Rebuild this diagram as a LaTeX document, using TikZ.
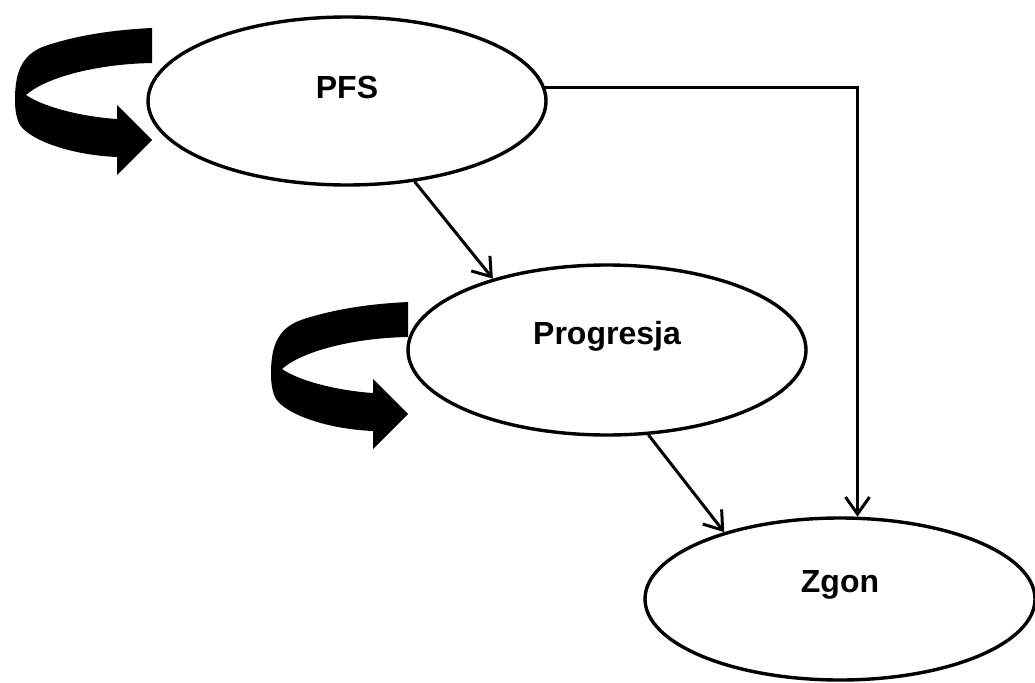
\documentclass[tikz,border=0pt]{standalone}
\usepackage{fontspec}
\setmainfont{Liberation Sans}
\usetikzlibrary{shapes.geometric,arrows.meta,calc}
\tikzset{
  state/.style={ellipse, draw=black, line width=3.4pt, fill=white, inner sep=0pt},
  lbl/.style={font=\fontsize{32}{36}\selectfont\bfseries, inner sep=0pt},
  conn/.style={line width=3pt, -{Straight Barb[length=17pt,width=24pt,line width=3pt]}},
  selfloop/.style={fill=black}
}
\newcommand{\curvedarrow}{%
  \fill[selfloop] (152,28) -- (152,63) .. controls (95,64) and (45,78) .. (26,95)
    .. controls (45,108) and (85,117) .. (117,119) -- (117,105) -- (152,140)
    -- (117,175) -- (117,157) .. controls (70,155) and (30,140) .. (20,125)
    .. controls (16,118) and (15,108) .. (15,100)
    .. controls (15,75) and (20,55) .. (45,46)
    .. controls (75,36) and (110,30) .. (152,28) -- cycle;}
\begin{document}
\begin{tikzpicture}[x=1pt,y=-1pt]
\useasboundingbox[fill=white] (0,0) rectangle (1035,682);
% states
\node[state, minimum width=398pt, minimum height=168pt] (pfs) at (347,101) {};
\node[state, minimum width=398pt, minimum height=170pt] (prog) at (607,350) {};
\node[state, minimum width=390pt, minimum height=162pt] (zgon) at (840,599) {};
\node[lbl] (pfsT) at ([yshift=14pt]pfs.center) {PFS};
\node[lbl] (progT) at ([yshift=14pt]prog.center) {Progresja};
\node[lbl] (zgonT) at ([yshift=14pt]zgon.center) {Zgon};
% self loops
\begin{scope}\curvedarrow\end{scope}
\begin{scope}[shift={(256,274)}]\curvedarrow\end{scope}
% connectors
\draw[conn] (pfs.-50) -- (prog.148);
\draw[conn] (prog.-64) -- (zgon.150);
\draw[conn] (pfs.4) -| (zgon.78);
\end{tikzpicture}
\end{document}
